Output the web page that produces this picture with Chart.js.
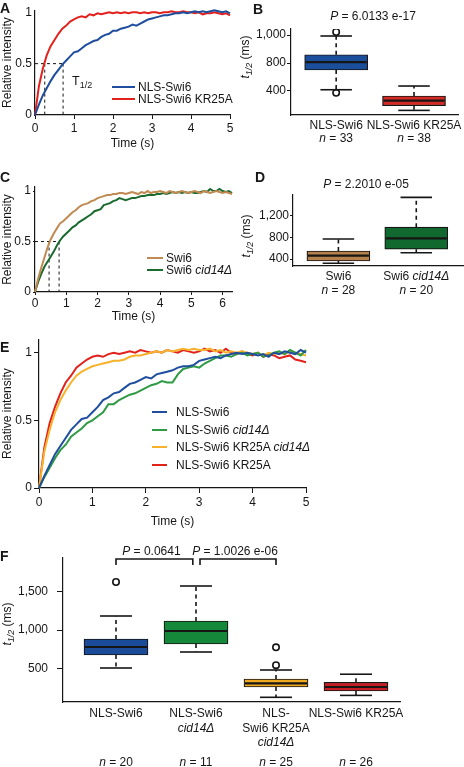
<!DOCTYPE html>
<html><head><meta charset="utf-8">
<script src="https://cdn.jsdelivr.net/npm/chart.js@4.4.1/dist/chart.umd.min.js"></script>
<style>
body{margin:0;width:464px;height:767px;position:relative;background:#fff;font-family:"Liberation Sans",Arial,Helvetica,sans-serif;color:#161616;overflow:hidden}
canvas{position:absolute}
.t{position:absolute;white-space:nowrap;font-size:12px;line-height:1;z-index:2}
.c{transform:translate(-50%,-50%)}
.l{transform:translate(0,-50%)}
.r{transform:translate(-50%,-50%) rotate(-90deg)}
.pl{font-weight:bold;font-size:14px}
sub{font-size:9px;vertical-align:-3px;line-height:0}
.sw{position:absolute;height:2px;z-index:2}
</style></head><body>
<script>
// ---------------- DATA ----------------
const timeA = [0,0.1,0.2,0.3,0.4,0.5,0.6,0.7,0.8,0.9,1,1.1,1.2,1.3,1.4,1.5,1.6,1.7,1.8,1.9,2,2.1,2.2,2.3,2.4,2.5,2.6,2.7,2.8,2.9,3,3.1,3.2,3.3,3.4,3.5,3.6,3.7,3.8,3.9,4,4.1,4.2,4.3,4.4,4.5,4.6,4.7,4.8,4.9,5];
const seriesA_names = ["NLS-Swi6", "NLS-Swi6 KR25A"];
const seriesA_blue = [0,0.10,0.19,0.26,0.33,0.39,0.44,0.49,0.53,0.57,0.61,0.62,0.65,0.68,0.70,0.72,0.73,0.76,0.78,0.79,0.82,0.82,0.84,0.85,0.86,0.88,0.87,0.89,0.91,0.93,0.94,0.95,0.96,0.97,0.97,0.98,0.99,0.99,1.00,0.99,1.00,1.01,1.00,1.01,1.00,1.01,1.02,1.01,1.00,1.01,0.99];
const seriesA_red = [0,0.28,0.45,0.58,0.67,0.73,0.79,0.84,0.87,0.91,0.93,0.95,0.96,0.95,0.98,0.97,0.99,0.98,0.99,1.00,0.99,1.00,0.99,1.00,0.99,1.00,1.00,0.99,1.00,0.99,1.00,1.00,0.99,1.00,1.00,1.01,1.00,1.00,1.01,1.00,1.00,0.99,1.00,0.98,0.99,0.99,1.00,0.99,0.98,0.99,0.97];
const halfTimesA = [0.25, 0.72];

const timeC = [0,0.1,0.2,0.3,0.4,0.5,0.6,0.7,0.8,0.9,1,1.1,1.2,1.3,1.4,1.5,1.6,1.7,1.8,1.9,2,2.1,2.2,2.3,2.4,2.5,2.6,2.7,2.8,2.9,3,3.1,3.2,3.3,3.4,3.5,3.6,3.7,3.8,3.9,4,4.1,4.2,4.3,4.4,4.5,4.6,4.7,4.8,4.9,5,5.1,5.2,5.3,5.4,5.5,5.6,5.7,5.8,5.9,6,6.1,6.2,6.3];
const seriesC_names = ["Swi6", "Swi6 *cid14Δ*"];
const seriesC_brown = [0,0.13,0.24,0.34,0.44,0.52,0.58,0.63,0.68,0.70,0.73,0.76,0.79,0.81,0.84,0.86,0.87,0.88,0.90,0.91,0.93,0.94,0.95,0.96,0.96,0.97,0.97,0.98,0.98,0.97,0.98,0.99,0.98,0.97,0.99,0.98,1.00,0.98,0.99,0.99,1.00,0.99,0.98,1.00,0.99,0.98,0.99,1.00,0.99,0.98,0.99,1.00,0.99,0.98,1.00,0.99,0.98,0.99,1.00,0.99,0.98,0.99,0.98,0.97];
const seriesC_green = [0,0.10,0.18,0.25,0.30,0.35,0.40,0.46,0.51,0.55,0.58,0.61,0.64,0.66,0.69,0.71,0.73,0.75,0.77,0.80,0.81,0.82,0.86,0.87,0.88,0.90,0.91,0.93,0.92,0.91,0.92,0.93,0.93,0.94,0.95,0.95,0.96,0.96,0.96,0.97,0.97,0.98,0.97,0.98,0.99,0.98,0.99,0.98,0.99,0.98,0.99,0.98,0.98,0.99,1.00,0.99,1.02,1.00,1.00,1.02,1.00,0.99,1.00,0.98];
const halfTimesC = [0.45, 0.77];

const timeE = timeA;
const seriesE_names = ["NLS-Swi6", "NLS-Swi6 *cid14Δ*", "NLS-Swi6 KR25A *cid14Δ*", "NLS-Swi6 KR25A"];
const seriesE_blue = [0,0.09,0.17,0.25,0.31,0.37,0.43,0.47,0.51,0.52,0.56,0.60,0.65,0.67,0.70,0.71,0.74,0.77,0.78,0.80,0.82,0.81,0.84,0.85,0.86,0.87,0.89,0.90,0.90,0.91,0.94,0.95,0.96,0.97,0.96,0.98,0.99,1.00,0.99,1.00,0.99,0.98,0.99,0.97,1.00,0.99,1.01,1.00,0.99,1.02,1.00];
const seriesE_green = [0,0.08,0.15,0.22,0.28,0.32,0.38,0.41,0.44,0.48,0.50,0.53,0.56,0.62,0.62,0.65,0.67,0.69,0.70,0.72,0.74,0.76,0.77,0.79,0.78,0.78,0.84,0.88,0.89,0.90,0.89,0.92,0.94,0.96,0.98,0.98,0.97,0.99,1.00,0.98,0.99,1.00,0.97,0.98,1.00,1.01,0.99,1.02,1.00,0.98,1.02];
const seriesE_yellow = [0,0.27,0.43,0.56,0.65,0.72,0.78,0.83,0.86,0.88,0.90,0.91,0.92,0.93,0.94,0.94,0.95,0.97,0.98,0.98,0.99,1.00,1.01,1.00,1.02,1.01,1.02,1.03,1.02,1.03,1.02,1.02,1.03,1.01,1.02,1.00,1.01,1.00,1.01,1.00,0.99,1.00,0.98,1.00,0.99,1.00,0.99,1.01,1.00,0.99,0.98];
const seriesE_red = [0,0.30,0.48,0.60,0.70,0.78,0.83,0.89,0.92,0.95,0.97,0.98,0.97,0.99,1.00,0.99,1.00,1.01,1.00,1.02,1.01,1.00,1.01,1.00,1.02,1.01,1.00,1.02,1.01,1.00,1.01,1.03,1.01,1.02,1.00,1.03,1.00,0.99,1.01,0.99,0.98,1.00,0.97,0.99,0.98,0.96,0.97,0.98,0.95,0.94,0.93];

// Box plot B (t1/2, ms)
const catB = [["NLS-Swi6"], ["NLS-Swi6 KR25A"]];
const nB = [33, 38];
const q1B = [700, 190], medB = [812, 262], q3B = [918, 329], loB = [418, 123], hiB = [1186, 471];
const outGroupB = [0, 0], outValB = [1243, 374];
const yTicksB = [400, 800, 1200], yTickLabelsB = ["400", "800", "1,000"];
const pB = "6.0133 e-17";

// Box plot D
const catD = [["Swi6"], ["Swi6 *cid14Δ*"]];
const nD = [28, 20];
const q1D = [363, 582], medD = [462, 785], q3D = [549, 992], loD = [322, 515], hiD = [772, 1545];
const outGroupD = [], outValD = [];
const yTicksD = [400, 800, 1200], yTickLabelsD = ["400", "800", "1,200"];
const pD = "2.2010 e-05";

// Box plot F
const catF = [["NLS-Swi6"], ["NLS-Swi6", "*cid14Δ*"], ["NLS-", "Swi6 KR25A", "*cid14Δ*"], ["NLS-Swi6 KR25A"]];
const nF = [20, 11, 25, 26];
const q1F = [675, 818, 259, 207], medF = [779, 987, 305, 259], q3F = [883, 1117, 363, 320], loF = [506, 714, 125, 150], hiF = [1182, 1572, 480, 425];
const outGroupF = [0, 2, 2], outValF = [1624, 775, 543];
const yTicksF = [500, 1000, 1500], yTickLabelsF = ["500", "1,000", "1,500"];
const pF = ["0.0641", "1.0026 e-06"];

// ---------------- RENDER ----------------
const FONT = '"Liberation Sans", Arial, Helvetica, sans-serif';
Chart.defaults.font.family = FONT;
Chart.defaults.font.size = 12;
Chart.defaults.color = '#161616';
Chart.defaults.animation = false;
const INK = '#161616';

function mkCanvas(left, top, w, h) {
  const c = document.createElement('canvas');
  c.width = w; c.height = h;
  Object.assign(c.style, {left: left + 'px', top: top + 'px', width: w + 'px', height: h + 'px'});
  document.body.appendChild(c);
  return c;
}
function html(s) { return s.replace(/\*([^*]+)\*/g, '<i>$1</i>'); }
function txt(x, y, content, cls, extra) {
  const d = document.createElement('div');
  d.className = 't ' + (cls || 'c');
  d.style.left = x + 'px'; d.style.top = y + 'px';
  if (extra) d.style.cssText += extra;
  d.innerHTML = content;
  document.body.appendChild(d);
}
function legend(x0, x1, xt, rows, names, colors) {
  names.forEach((n, i) => {
    const s = document.createElement('div');
    s.className = 'sw';
    Object.assign(s.style, {left: x0 + 'px', width: (x1 - x0) + 'px', top: Math.round(rows[i] - 1) + 'px', background: colors[i]});
    document.body.appendChild(s);
    txt(xt, rows[i], html(n), 'l');
  });
}
function rich(ctx, s, x, y, size) {
  const parts = s.split('*');
  const f = k => (k % 2 ? 'italic ' : '') + size + 'px ' + FONT;
  let tot = 0;
  const ws = parts.map((p, k) => { ctx.font = f(k); const w = ctx.measureText(p).width; tot += w; return w; });
  let cx = x - tot / 2;
  ctx.textAlign = 'left'; ctx.textBaseline = 'middle';
  parts.forEach((p, k) => { ctx.font = f(k); ctx.fillText(p, cx, y); cx += ws[k]; });
}
function seg(ctx, x1, y1, x2, y2) { ctx.beginPath(); ctx.moveTo(x1, y1); ctx.lineTo(x2, y2); ctx.stroke(); }

function scale(o) {
  return {
    type: 'linear', min: o.min, max: o.max, position: o.pos,
    grid: {display: true, drawOnChartArea: false, drawTicks: o.tickLen > 0, tickLength: o.tickLen || 0, color: INK, lineWidth: 1},
    border: {display: true, color: INK, width: 1.2},
    ticks: {display: !!o.labels, padding: o.pad || 2, color: INK, font: {size: 12}, autoSkip: false, maxRotation: 0,
      callback: (v, i) => o.labels ? o.labels[i] : ''},
    afterBuildTicks: s => { s.ticks = o.ticks.map(v => ({value: v})); },
    afterFit: s => { if (o.pos === 'left') s.width = o.size; else s.height = o.size; },
    title: o.title ? {display: true, text: o.title, color: INK, font: {size: 12}, padding: o.titlePad} : {display: false}
  };
}

function lineChart(el, c) {
  const ds = [];
  c.series.forEach((vals, i) => ds.push({
    data: c.time.map((t, k) => ({x: t, y: vals[k]})), borderColor: c.colors[i], borderWidth: 2,
    pointRadius: 0, tension: 0, clip: false
  }));
  if (c.half) {
    const hmax = Math.max(...c.half);
    ds.push({data: [{x: 0, y: 0.5}, {x: hmax, y: 0.5}], borderColor: INK, borderWidth: 1, borderDash: [3, 3], pointRadius: 0});
    c.half.forEach(h => ds.push({data: [{x: h, y: 0.5}, {x: h, y: 0}], borderColor: INK, borderWidth: 1, borderDash: [3, 3], pointRadius: 0}));
  }
  new Chart(el, {
    type: 'line',
    data: {datasets: ds},
    options: {
      responsive: false, animation: false, layout: {padding: c.padding},
      plugins: {legend: {display: false}, tooltip: {enabled: false}},
      scales: {x: scale(c.x), y: scale(c.y)}
    }
  });
}

function boxChart(el, S) {
  const plugin = {
    id: 'boxDecor',
    afterDatasetsDraw(chart) {
      const ctx = chart.ctx, ys = chart.scales.y;
      const P = v => ys.getPixelForValue(v);
      ctx.save(); ctx.strokeStyle = INK;
      chart.getDatasetMeta(0).data.forEach((b, i) => {
        const x = b.x, w = b.width;
        ctx.lineWidth = 2.2; ctx.setLineDash([]);
        seg(ctx, x - w / 2 + 1, P(S.med[i]), x + w / 2 - 1, P(S.med[i]));
        ctx.lineWidth = 1.6; ctx.setLineDash([4, 3.5]);
        seg(ctx, x, P(S.q3[i]), x, P(S.hi[i]));
        seg(ctx, x, P(S.q1[i]), x, P(S.lo[i]));
        ctx.setLineDash([]);
        seg(ctx, x - w / 4, P(S.hi[i]), x + w / 4, P(S.hi[i]));
        seg(ctx, x - w / 4, P(S.lo[i]), x + w / 4, P(S.lo[i]));
      });
      ctx.restore();
    },
    afterDraw(chart) {
      const ctx = chart.ctx, xs = chart.scales.x, bottom = chart.chartArea.bottom;
      ctx.save(); ctx.fillStyle = INK;
      S.names.forEach((lines, i) => {
        const x = xs.getPixelForValue(S.pos[i]);
        lines.forEach((ln, k) => rich(ctx, ln, x, bottom + S.lab0 + k * S.labH, 12));
        rich(ctx, '*n* = ' + S.n[i], x, bottom + S.nOff, 12);
      });
      if (S.extra) S.extra(chart, ctx);
      ctx.restore();
    }
  };
  new Chart(el, {
    type: 'bar',
    data: {datasets: [
      {data: S.pos.map((x, i) => ({x: x, y: [S.q1[i], S.q3[i]]})), backgroundColor: S.colors, borderColor: INK,
        borderWidth: 1.2, borderSkipped: false, barThickness: S.bw},
      {type: 'scatter', data: S.outG.map((g, k) => ({x: S.pos[g], y: S.outV[k]})), pointStyle: 'circle', pointRadius: 3.2,
        borderColor: INK, backgroundColor: 'rgba(0,0,0,0)', borderWidth: 1.6}
    ]},
    options: {
      responsive: false, animation: false, layout: {padding: S.padding},
      plugins: {legend: {display: false}, tooltip: {enabled: false}},
      scales: {
        x: Object.assign(scale({min: S.xmin, max: S.xmax, pos: 'bottom', ticks: S.pos, tickLen: 0, size: S.xh}), {offset: false}),
        y: scale({min: S.ymin, max: S.ymax, pos: 'left', ticks: S.yticks, labels: S.ylabels, tickLen: S.tl, pad: S.tp, size: S.yw})
      }
    },
    plugins: [plugin]
  });
}

const ticks05 = [0, 0.5, 1], labs05 = ['0', '0.5', '1'];
const secs5 = [0, 1, 2, 3, 4, 5], secs5L = ['0', '1', '2', '3', '4', '5'];
const secs6 = [0, 1, 2, 3, 4, 5, 6], secs6L = ['0', '1', '2', '3', '4', '5', '6'];

// Panel A
lineChart(mkCanvas(0, 0, 240, 155), {
  time: timeA, series: [seriesA_blue, seriesA_red], colors: ['#1f4e9e', '#e3211c'], half: halfTimesA,
  padding: {top: 6, right: 10, left: 0, bottom: 0},
  x: {min: 0, max: 5, pos: 'bottom', ticks: secs5, labels: secs5L, tickLen: 4, pad: 2, size: 40, title: 'Time (s)', titlePad: {top: 0, bottom: 4}},
  y: {min: 0, max: 1.02, pos: 'left', ticks: ticks05, labels: labs05, tickLen: 0, pad: 3, size: 35, title: 'Relative intensity', titlePad: {top: 0, bottom: 0}}
});
// Panel C
lineChart(mkCanvas(0, 160, 240, 168), {
  time: timeC, series: [seriesC_brown, seriesC_green], colors: ['#c08a52', '#1b6a2e'], half: halfTimesC,
  padding: {top: 27, right: 8, left: 0, bottom: 0},
  x: {min: 0, max: 6.3, pos: 'bottom', ticks: secs6, labels: secs6L, tickLen: 3, pad: 1, size: 36, title: 'Time (s)', titlePad: {top: 0, bottom: 4}},
  y: {min: 0, max: 1.04, pos: 'left', ticks: ticks05, labels: labs05, tickLen: 2, pad: 2, size: 35, title: 'Relative intensity', titlePad: {top: 0, bottom: 0}}
});
// Panel E
lineChart(mkCanvas(0, 330, 330, 203), {
  time: timeE, series: [seriesE_blue, seriesE_green, seriesE_yellow, seriesE_red],
  colors: ['#1f4e9e', '#2e9a44', '#f6b22b', '#e3211c'],
  padding: {top: 9, right: 24, left: 0, bottom: 0},
  x: {min: 0, max: 5, pos: 'bottom', ticks: secs5, labels: secs5L, tickLen: 5, pad: 2, size: 45, title: 'Time (s)', titlePad: {top: 0, bottom: 4}},
  y: {min: 0, max: 1.1, pos: 'left', ticks: ticks05, labels: labs05, tickLen: 5, pad: 2, size: 39, title: 'Relative intensity', titlePad: {top: 0, bottom: 0}}
});
// Panel B
boxChart(mkCanvas(240, 0, 224, 150), {
  pos: [1, 2], names: catB, n: nB, q1: q1B, med: medB, q3: q3B, lo: loB, hi: hiB, outG: outGroupB, outV: outValB,
  colors: ['#1b4f9c', '#d42a23'], bw: 63, padding: {top: 29, right: 4, left: 0, bottom: 0},
  xmin: 0.42, xmax: 2.57, xh: 35, ymin: 57, ymax: 1286, yticks: yTicksB, ylabels: yTickLabelsB, tl: 4, tp: 1, yw: 51,
  lab0: 11, labH: 14, nOff: 24
});
// Panel D
boxChart(mkCanvas(240, 160, 224, 140), {
  pos: [1, 2], names: catD, n: nD, q1: q1D, med: medD, q3: q3D, lo: loD, hi: hiD, outG: outGroupD, outV: outValD,
  colors: ['#b5804a', '#11692f'], bw: 63, padding: {top: 35, right: 1, left: 0, bottom: 0},
  xmin: 0.417, xmax: 2.6, xh: 34, ymin: 270, ymax: 1590, yticks: yTicksD, ylabels: yTickLabelsD, tl: 3, tp: 1, yw: 53,
  lab0: 11, labH: 14, nOff: 25
});
// Panel F
const bracketsF = [[1, 1.96], [2.05, 3.0]];
boxChart(mkCanvas(0, 540, 464, 227), {
  pos: [1, 2, 3, 4], names: catF, n: nF, q1: q1F, med: medF, q3: q3F, lo: loF, hi: hiF, outG: outGroupF, outV: outValF,
  colors: ['#1b4c9a', '#16883a', '#efaa20', '#c51d22'], bw: 64, padding: {top: 18, right: 64, left: 0, bottom: 0},
  xmin: 0.3375, xmax: 4.55, xh: 65, ymin: 64, ymax: 1936, yticks: yTicksF, ylabels: yTickLabelsF, tl: 6, tp: 9, yw: 63,
  lab0: 12, labH: 14.5, nOff: 61,
  extra(chart, ctx) {
    const xs = chart.scales.x, ys = chart.scales.y;
    const yt = ys.getPixelForValue(1923), yb = ys.getPixelForValue(1845);
    ctx.strokeStyle = INK; ctx.lineWidth = 1.6; ctx.fillStyle = INK;
    bracketsF.forEach((b, k) => {
      const x1 = xs.getPixelForValue(b[0]), x2 = xs.getPixelForValue(b[1]);
      ctx.beginPath(); ctx.moveTo(x1, yb); ctx.lineTo(x1, yt); ctx.lineTo(x2, yt); ctx.lineTo(x2, yb); ctx.stroke();
      rich(ctx, '*P* = ' + pF[k], (x1 + x2) / 2 - 3, yt - 7, 12);
    });
  }
});

// ---------------- TEXT OVERLAYS ----------------
txt(0, 8, 'A', 'l pl');
txt(253, 9, 'B', 'l pl');
txt(0, 177, 'C', 'l pl');
txt(255, 177, 'D', 'l pl');
txt(0, 347, 'E', 'l pl');
txt(0, 556, 'F', 'l pl');
txt(373, 16, '<i>P</i> = ' + pB);
txt(366, 184, '<i>P</i> = ' + pD);
txt(72, 81, 'T<sub>1/2</sub>', 'l', 'font-size:12.5px');
txt(245, 57, '<i>t</i><sub><i>1/2</i></sub> (ms)', 'r');
txt(246, 236, '<i>t</i><sub><i>1/2</i></sub> (ms)', 'r');
txt(7, 624, '<i>t</i><sub><i>1/2</i></sub> (ms)', 'r');
legend(112, 135, 138, [87, 99], seriesA_names, ['#1f4e9e', '#e3211c']);
legend(147, 163, 166, [258, 269.5], seriesC_names, ['#c08a52', '#1b6a2e']);
legend(152, 167, 176, [412, 429.5, 447, 465], seriesE_names, ['#1f4e9e', '#2e9a44', '#f6b22b', '#e3211c']);
</script>
</body></html>
